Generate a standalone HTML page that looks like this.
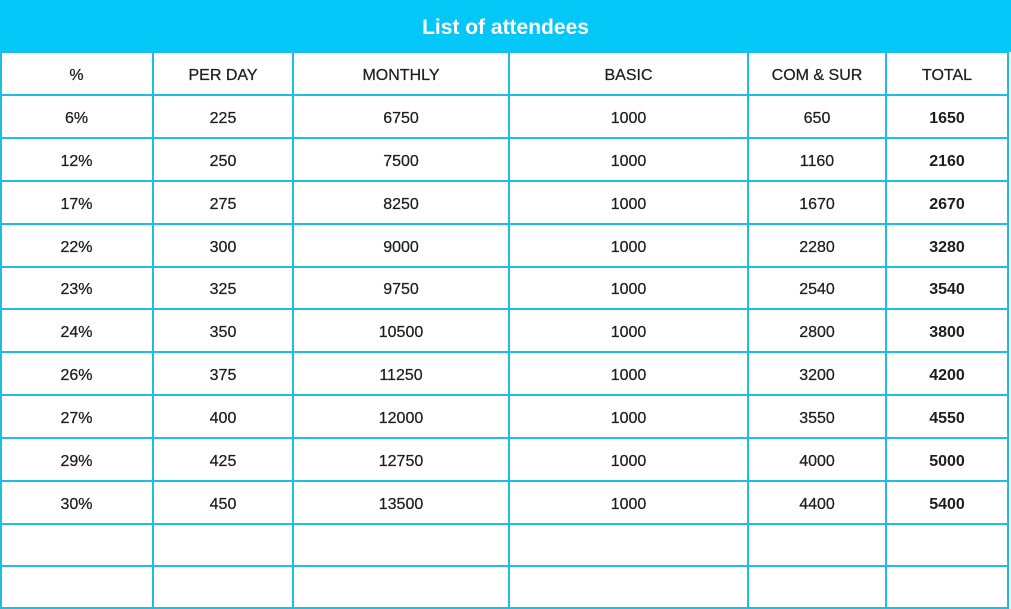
<!DOCTYPE html>
<html>
<head>
<meta charset="utf-8">
<style>
  html,body{margin:0;padding:0;}
  body{width:1011px;height:609px;position:relative;overflow:hidden;background:#ffffff;font-family:"Liberation Sans",Arial,sans-serif;color:#222;}
  .band{position:absolute;left:0;top:0;width:1011px;height:52px;background:#02c7f7;}
  .title{position:absolute;left:0;top:0;width:1011px;height:56px;line-height:56px;text-align:center;color:#fff;font-weight:bold;font-size:21px;}
  .h{position:absolute;left:0;width:1009px;height:2px;background:#1fbde4;}
  .v{position:absolute;top:52px;width:2px;height:557px;background:#1fbde4;}
  .c{position:absolute;text-align:center;font-size:16px;color:#1e1e1e;margin-top:2px;-webkit-text-stroke:0.25px #1e1e1e;}
  .b{font-weight:bold;-webkit-text-stroke:0;}
</style>
</head>
<body>
<div class="band"></div>
<div class="title">List of attendees</div>

<div class="h" style="top:51px"></div>
<div class="h" style="top:94px"></div>
<div class="h" style="top:137px"></div>
<div class="h" style="top:180px"></div>
<div class="h" style="top:223px"></div>
<div class="h" style="top:266px"></div>
<div class="h" style="top:308px"></div>
<div class="h" style="top:351px"></div>
<div class="h" style="top:394px"></div>
<div class="h" style="top:437px"></div>
<div class="h" style="top:480px"></div>
<div class="h" style="top:523px"></div>
<div class="h" style="top:565px"></div>
<div class="h" style="top:607px"></div>

<div class="v" style="left:0px"></div>
<div class="v" style="left:152px"></div>
<div class="v" style="left:292px"></div>
<div class="v" style="left:508px"></div>
<div class="v" style="left:747px"></div>
<div class="v" style="left:885px"></div>
<div class="v" style="left:1007px"></div>

<div class="c" style="left:0;width:153px;top:52px;height:43px;line-height:43px;">%</div>
<div class="c" style="left:153px;width:140px;top:52px;height:43px;line-height:43px;">PER DAY</div>
<div class="c" style="left:293px;width:216px;top:52px;height:43px;line-height:43px;">MONTHLY</div>
<div class="c" style="left:509px;width:239px;top:52px;height:43px;line-height:43px;">BASIC</div>
<div class="c" style="left:748px;width:138px;top:52px;height:43px;line-height:43px;">COM &amp; SUR</div>
<div class="c" style="left:886px;width:122px;top:52px;height:43px;line-height:43px;">TOTAL</div>

<div class="c" style="left:0;width:153px;top:95px;height:43px;line-height:43px;">6%</div>
<div class="c" style="left:153px;width:140px;top:95px;height:43px;line-height:43px;">225</div>
<div class="c" style="left:293px;width:216px;top:95px;height:43px;line-height:43px;">6750</div>
<div class="c" style="left:509px;width:239px;top:95px;height:43px;line-height:43px;">1000</div>
<div class="c" style="left:748px;width:138px;top:95px;height:43px;line-height:43px;">650</div>
<div class="c b" style="left:886px;width:122px;top:95px;height:43px;line-height:43px;">1650</div>

<div class="c" style="left:0;width:153px;top:138px;height:43px;line-height:43px;">12%</div>
<div class="c" style="left:153px;width:140px;top:138px;height:43px;line-height:43px;">250</div>
<div class="c" style="left:293px;width:216px;top:138px;height:43px;line-height:43px;">7500</div>
<div class="c" style="left:509px;width:239px;top:138px;height:43px;line-height:43px;">1000</div>
<div class="c" style="left:748px;width:138px;top:138px;height:43px;line-height:43px;">1160</div>
<div class="c b" style="left:886px;width:122px;top:138px;height:43px;line-height:43px;">2160</div>

<div class="c" style="left:0;width:153px;top:181px;height:43px;line-height:43px;">17%</div>
<div class="c" style="left:153px;width:140px;top:181px;height:43px;line-height:43px;">275</div>
<div class="c" style="left:293px;width:216px;top:181px;height:43px;line-height:43px;">8250</div>
<div class="c" style="left:509px;width:239px;top:181px;height:43px;line-height:43px;">1000</div>
<div class="c" style="left:748px;width:138px;top:181px;height:43px;line-height:43px;">1670</div>
<div class="c b" style="left:886px;width:122px;top:181px;height:43px;line-height:43px;">2670</div>

<div class="c" style="left:0;width:153px;top:224px;height:43px;line-height:43px;">22%</div>
<div class="c" style="left:153px;width:140px;top:224px;height:43px;line-height:43px;">300</div>
<div class="c" style="left:293px;width:216px;top:224px;height:43px;line-height:43px;">9000</div>
<div class="c" style="left:509px;width:239px;top:224px;height:43px;line-height:43px;">1000</div>
<div class="c" style="left:748px;width:138px;top:224px;height:43px;line-height:43px;">2280</div>
<div class="c b" style="left:886px;width:122px;top:224px;height:43px;line-height:43px;">3280</div>

<div class="c" style="left:0;width:153px;top:267px;height:42px;line-height:42px;">23%</div>
<div class="c" style="left:153px;width:140px;top:267px;height:42px;line-height:42px;">325</div>
<div class="c" style="left:293px;width:216px;top:267px;height:42px;line-height:42px;">9750</div>
<div class="c" style="left:509px;width:239px;top:267px;height:42px;line-height:42px;">1000</div>
<div class="c" style="left:748px;width:138px;top:267px;height:42px;line-height:42px;">2540</div>
<div class="c b" style="left:886px;width:122px;top:267px;height:42px;line-height:42px;">3540</div>

<div class="c" style="left:0;width:153px;top:309px;height:43px;line-height:43px;">24%</div>
<div class="c" style="left:153px;width:140px;top:309px;height:43px;line-height:43px;">350</div>
<div class="c" style="left:293px;width:216px;top:309px;height:43px;line-height:43px;">10500</div>
<div class="c" style="left:509px;width:239px;top:309px;height:43px;line-height:43px;">1000</div>
<div class="c" style="left:748px;width:138px;top:309px;height:43px;line-height:43px;">2800</div>
<div class="c b" style="left:886px;width:122px;top:309px;height:43px;line-height:43px;">3800</div>

<div class="c" style="left:0;width:153px;top:352px;height:43px;line-height:43px;">26%</div>
<div class="c" style="left:153px;width:140px;top:352px;height:43px;line-height:43px;">375</div>
<div class="c" style="left:293px;width:216px;top:352px;height:43px;line-height:43px;">11250</div>
<div class="c" style="left:509px;width:239px;top:352px;height:43px;line-height:43px;">1000</div>
<div class="c" style="left:748px;width:138px;top:352px;height:43px;line-height:43px;">3200</div>
<div class="c b" style="left:886px;width:122px;top:352px;height:43px;line-height:43px;">4200</div>

<div class="c" style="left:0;width:153px;top:395px;height:43px;line-height:43px;">27%</div>
<div class="c" style="left:153px;width:140px;top:395px;height:43px;line-height:43px;">400</div>
<div class="c" style="left:293px;width:216px;top:395px;height:43px;line-height:43px;">12000</div>
<div class="c" style="left:509px;width:239px;top:395px;height:43px;line-height:43px;">1000</div>
<div class="c" style="left:748px;width:138px;top:395px;height:43px;line-height:43px;">3550</div>
<div class="c b" style="left:886px;width:122px;top:395px;height:43px;line-height:43px;">4550</div>

<div class="c" style="left:0;width:153px;top:438px;height:43px;line-height:43px;">29%</div>
<div class="c" style="left:153px;width:140px;top:438px;height:43px;line-height:43px;">425</div>
<div class="c" style="left:293px;width:216px;top:438px;height:43px;line-height:43px;">12750</div>
<div class="c" style="left:509px;width:239px;top:438px;height:43px;line-height:43px;">1000</div>
<div class="c" style="left:748px;width:138px;top:438px;height:43px;line-height:43px;">4000</div>
<div class="c b" style="left:886px;width:122px;top:438px;height:43px;line-height:43px;">5000</div>

<div class="c" style="left:0;width:153px;top:481px;height:43px;line-height:43px;">30%</div>
<div class="c" style="left:153px;width:140px;top:481px;height:43px;line-height:43px;">450</div>
<div class="c" style="left:293px;width:216px;top:481px;height:43px;line-height:43px;">13500</div>
<div class="c" style="left:509px;width:239px;top:481px;height:43px;line-height:43px;">1000</div>
<div class="c" style="left:748px;width:138px;top:481px;height:43px;line-height:43px;">4400</div>
<div class="c b" style="left:886px;width:122px;top:481px;height:43px;line-height:43px;">5400</div>
</body>
</html>
